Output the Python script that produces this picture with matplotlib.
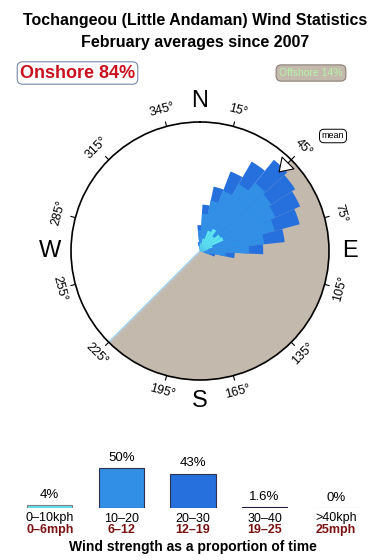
import numpy as np
import matplotlib
matplotlib.use("Agg")
import matplotlib.pyplot as plt
import matplotlib.transforms as mtransforms

plt.rcParams['font.family'] = ['Liberation Sans', 'DejaVu Sans']

# rose data: direction bins (deg, from), cumulative radius per speed band
directions = [349.5, 358.5, 7.5, 16.5, 25.5, 34.5, 43.5, 52.5, 61.5, 70.5, 79.5, 88.5, 97.5, 106.5]
r_0_10 = [0.02, 0.04, 0.06, 0.10, 0.17, 0.20, 0.15, 0.19, 0.20, 0.10, 0.06, 0.04, 0.03, 0.02]
r_10_20 = [0.06, 0.16, 0.29, 0.40, 0.50, 0.60, 0.68, 0.66, 0.64, 0.60, 0.50, 0.38, 0.20, 0.08]
r_20_30 = [0.07, 0.20, 0.36, 0.51, 0.66, 0.80, 0.91, 0.88, 0.85, 0.80, 0.66, 0.49, 0.27, 0.12]
bin_width = 9
offshore_from, offshore_to = 45, 225
mean_dir = 45

# speed histogram
speed_kph = ['0\u201310kph', '10\u201320', '20\u201330', '30\u201340', '>40kph']
speed_mph = ['0\u20136mph', '6\u201312', '12\u201319', '19\u201325', '25mph']
speed_pct = [4, 50, 43, 1.6, 0]
pct_labels = ['4%', '50%', '43%', '1.6%', '0%']

W, H = 390, 560
fig = plt.figure(figsize=(W / 100, H / 100), dpi=100)

fig.text(0.5, 1 - 20 / H, 'Tochangeou (Little Andaman) Wind Statistics',
         ha='center', va='center', fontsize=11.5, fontweight='bold')
fig.text(0.5, 1 - 42 / H, 'February averages since 2007',
         ha='center', va='center', fontsize=11.5, fontweight='bold')

fig.text(77.5 / W, 1 - 73 / H, 'Onshore 84%', ha='center', va='center',
         fontsize=13, fontweight='bold', color='#C8101E',
         bbox=dict(boxstyle='round,pad=0.15,rounding_size=0.3', fc='white', ec='#7888A8', lw=0.8))
fig.text(311 / W, 1 - 73 / H, 'Offshore 14%', ha='center', va='center',
         fontsize=7.5, color='#B4F5A8',
         bbox=dict(boxstyle='round,pad=0.3,rounding_size=0.5', fc='#C4B9AD', ec='#8A8078', lw=0.8))
fig.text(333 / W, 1 - 136 / H, 'mean', ha='center', va='center', fontsize=6.5,
         bbox=dict(boxstyle='round,pad=0.25,rounding_size=0.5', fc='white', ec='black', lw=0.7))

# ---- rose ----
ax = fig.add_axes([71 / W, 1 - 380 / H, 258 / W, 258 / H], projection='polar')
ax.set_theta_zero_location('N')
ax.set_theta_direction(-1)
ax.set_ylim(0, 1)
ax.set_xticks([])
ax.set_yticks([])
ax.grid(False)
ax.spines['polar'].set_linewidth(1.2)
ax.spines['polar'].set_color('black')

th_off = np.radians(np.linspace(offshore_from, offshore_to, 200))
ax.fill_between(th_off, 0, 1, color='#C4B9AD', lw=0, zorder=1)
ax.plot([np.radians(offshore_to)] * 2, [0, 1], color='#9CC8EC', lw=1, zorder=1.5)

theta = np.radians(directions)
width = np.radians(bin_width)
ax.bar(theta, r_20_30, width=width, color='#2570DC', lw=0, zorder=2)
ax.bar(theta, r_10_20, width=width, color='#318FE6', lw=0, zorder=3)
ax.bar(theta, r_0_10, width=width, color='#5EE4F0', lw=0, zorder=4)

ax.annotate('', xy=(np.radians(mean_dir), 0.86), xytext=(np.radians(mean_dir), 1.0),
            arrowprops=dict(arrowstyle='-|>,head_length=0.9,head_width=0.6', fc='white',
                            ec='black', lw=0.8, shrinkA=0, shrinkB=0),
            zorder=6, annotation_clip=False)

for d in range(15, 360, 30):
    t = np.radians(d)
    ax.plot([t, t], [1.0, 1.035], color='black', lw=0.8, clip_on=False, zorder=5)
    if d <= 90:
        rot = -d
    elif d < 270:
        rot = 180 - d
    else:
        rot = 360 - d
    ax.text(t, 1.13, '%d\u00b0' % d, ha='center', va='center', rotation=rot,
            rotation_mode='anchor', fontsize=9, clip_on=False)

for lab, d in zip(['N', 'E', 'S', 'W'], [0, 90, 180, 270]):
    ax.text(np.radians(d), 1.16, lab, ha='center', va='center', fontsize=17, clip_on=False)

# ---- speed bars ----
bax = fig.add_axes([14 / W, 1 - 508 / H, 358 / W, 48 / H])
bax.set_xlim(-0.5, 4.5)
bax.set_ylim(0, 60)
bax.axis('off')
x = np.arange(len(speed_pct))
bar_colors = ['#5EE4F0', '#318FE6', '#2570DC', '#1C1C3C', '#A8A8A8']
edge_colors = ['#808080', '#303050', '#303050', '#1C1C3C', '#A8A8A8']
bax.bar(x, speed_pct, width=0.63, color=bar_colors, edgecolor=edge_colors, lw=0.8)
for xi, v, lab in zip(x, speed_pct, pct_labels):
    bax.annotate(lab, (xi, v), xytext=(0, 3), textcoords='offset points',
                 ha='center', va='bottom', fontsize=9.5, annotation_clip=False)

tr = mtransforms.blended_transform_factory(bax.transData, fig.transFigure)
for xi, k, m in zip(x, speed_kph, speed_mph):
    fig.text(xi, 1 - 518.5 / H, k, transform=tr, ha='center', va='center', fontsize=9)
    fig.text(xi, 1 - 530 / H, m, transform=tr, ha='center', va='center', fontsize=9,
             fontweight='bold', color='#7A1212')
fig.text(193 / W, 1 - 547 / H, 'Wind strength as a proportion of time', ha='center',
         va='center', fontsize=10, fontweight='bold')

fig.savefig('out.png', dpi=100)
